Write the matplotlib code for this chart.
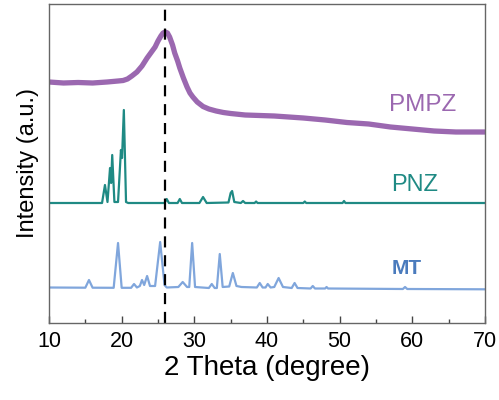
import numpy as np
import matplotlib
matplotlib.use("Agg")
import matplotlib.pyplot as plt
from matplotlib.ticker import MultipleLocator

plt.rcParams['font.family'] = ['Liberation Sans', 'DejaVu Sans']

# traced points (2 theta, intensity in arbitrary units)
mt_x = [10, 15.0, 15.5, 16.0, 18.9, 19.5, 20.0, 21.3, 21.7, 22.1, 22.5, 22.8, 23.1,
        23.5, 23.9, 24.6, 25.3, 25.9, 26.2, 27.8, 28.4, 29.0, 29.3, 29.7, 30.1,
        32.0, 32.4, 32.8, 33.1, 33.5, 33.9, 34.8, 35.3, 35.8, 36.5, 38.6, 39.0,
        39.4, 39.8, 40.1, 40.5, 41.0, 41.6, 42.2, 43.4, 43.8, 44.2, 46.0, 46.3,
        46.6, 48.0, 48.2, 48.4, 58.7, 59.0, 59.3, 70]
mt_y = [35.5, 35.3, 43, 35.3, 35.2, 80, 35.2, 35.2, 39, 35.5, 37, 43, 38,
        47, 37, 37, 81, 38, 35.5, 36, 41, 36, 36, 80, 36,
        35, 39, 35, 35, 69, 36, 36.5, 50, 37, 36, 35.5, 40,
        35.5, 35.5, 39, 35.5, 36, 45, 36, 35, 40, 35, 34.5, 37,
        34.5, 34.5, 36, 34.5, 34, 36, 34, 33.7]

pnz_x = [10, 17.3, 17.7, 18.05, 18.4, 18.55, 18.7, 19.0, 19.5, 19.9, 20.05, 20.3,
         20.6, 20.9, 25.9, 26.2, 26.5, 27.7, 28.0, 28.3, 30.7, 31.2, 31.7, 34.7,
         35.0, 35.2, 35.5, 36.4, 36.7, 37.0, 38.3, 38.5, 38.7, 45.0, 45.2, 45.4,
         50.4, 50.6, 50.8, 70]
pnz_y = [120, 120, 138, 121, 155, 140, 168, 121, 121, 173, 165, 213,
         121, 120, 120, 124, 120, 120, 124, 120, 120, 126, 120, 120.5,
         130, 132, 121, 120, 122, 120, 120, 121.5, 120, 120, 121.5, 120,
         120, 122, 120, 120]

pmpz_x = [10, 12, 14, 16, 18, 19.5, 20.2, 20.8, 21.4, 22.1, 22.8, 23.5, 24.1,
          24.6, 25.0, 25.4, 25.7, 26.0, 26.3, 26.6, 27.0, 27.3, 27.7, 28.0,
          28.5, 29.0, 29.4, 29.8, 30.4, 31.2, 32.0, 33.0, 34.0, 35.0, 37.0,
          39.0, 41.0, 43.0, 45.0, 48.0, 51.0, 54.0, 57.0, 60.0, 63.0, 66.0, 70.0]
pmpz_y = [241, 240, 240.5, 240, 241, 242, 242.5, 244, 247, 251, 257, 265, 271,
          276, 282, 287, 290, 291, 290, 286, 278, 270, 262, 255,
          245, 236, 230, 226, 221, 216.5, 214, 212, 210.5, 209.5, 208,
          207.5, 207, 206, 205, 203, 200.5, 199, 196, 194, 192, 191, 191]

dash_x = 26.0

fig = plt.figure(figsize=(4.99, 4.0), dpi=100)
ax = fig.add_axes([0.0982, 0.1925, 0.8737, 0.7975])

ax.plot(mt_x, mt_y, color='#80a6dc', lw=1.6)
ax.plot(pnz_x, pnz_y, color='#1f8a84', lw=1.6)
ax.plot(pmpz_x, pmpz_y, color='#9b68b0', lw=3.8, solid_joinstyle='round')
ax.axvline(dash_x, color='black', lw=1.6, ls=(0, (5, 3.5)))

ax.text(61.4, 218, 'PMPZ', color='#9b68b0', fontsize=17.5, ha='center', va='center')
ax.text(60.3, 138, 'PNZ', color='#1f8a84', fontsize=17, ha='center', va='center')
ax.text(59.2, 54, 'MT', color='#4a7bbd', fontsize=15, fontweight='bold',
        ha='center', va='center')

ax.set_xlim(10, 70)
ax.set_ylim(0, 319)
ax.xaxis.set_major_locator(MultipleLocator(10))
ax.xaxis.set_minor_locator(MultipleLocator(5))
ax.tick_params(axis='x', which='major', direction='in', length=5, width=1,
               labelsize=15.5, pad=6, colors='#444444', labelcolor='black')
ax.tick_params(axis='x', which='minor', direction='in', length=3, width=1,
               colors='#444444')
ax.set_yticks([])
for s in ax.spines.values():
    s.set_color('#666666')
    s.set_linewidth(1.0)

ax.set_xlabel('2 Theta (degree)', fontsize=20, labelpad=2)
ax.set_ylabel('Intensity (a.u.)', fontsize=17, labelpad=7)

fig.savefig('out.png', dpi=100)
